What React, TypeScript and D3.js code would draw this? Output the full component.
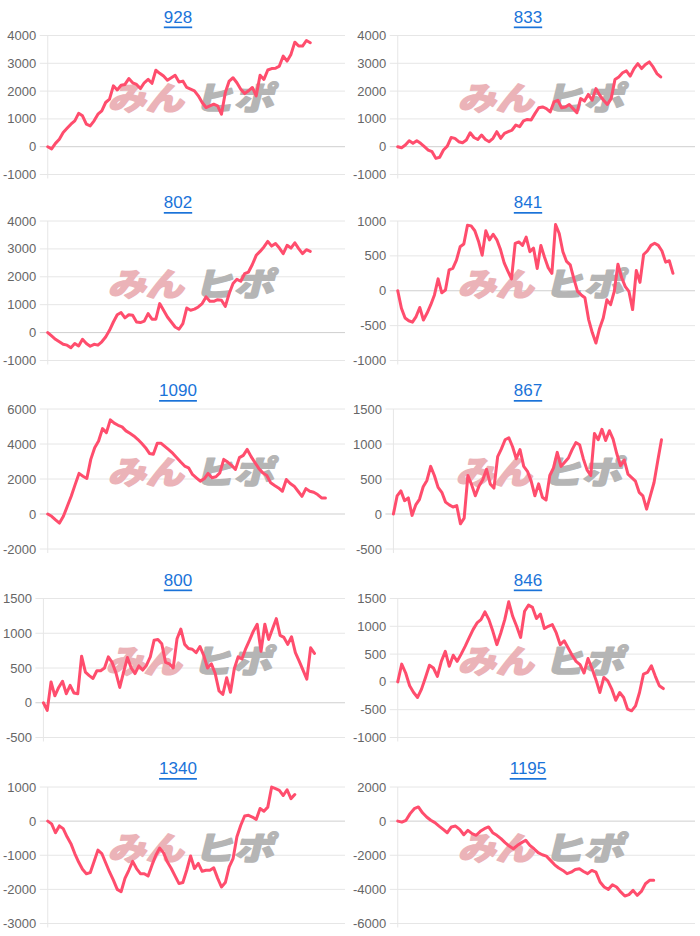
import React from "react";
import * as d3 from "d3";

// ---------- data ----------
const titles = ["928", "833", "802", "841", "1090", "867", "800", "846", "1340", "1195"];

const ticks928 = [4000, 3000, 2000, 1000, 0, -1000];
const ticks833 = [4000, 3000, 2000, 1000, 0, -1000];
const ticks802 = [4000, 3000, 2000, 1000, 0, -1000];
const ticks841 = [1000, 500, 0, -500, -1000];
const ticks1090 = [6000, 4000, 2000, 0, -2000];
const ticks867 = [1500, 1000, 500, 0, -500];
const ticks800 = [1500, 1000, 500, 0, -500];
const ticks846 = [1500, 1000, 500, 0, -500, -1000];
const ticks1340 = [1000, 0, -1000, -2000, -3000];
const ticks1195 = [2000, 0, -2000, -4000, -6000];

const values928 = [0, -80, 120, 270, 510, 660, 810, 930, 1200, 1110, 810, 750, 930, 1170, 1290, 1590, 1710, 2190, 2040, 2210, 2240, 2450, 2300, 2240, 2090, 2300, 2420, 2280, 2750, 2640, 2540, 2390, 2480, 2570, 2330, 2360, 2130, 2070, 2010, 1830, 1590, 1410, 1470, 1530, 1470, 1170, 1950, 2360, 2480, 2300, 2070, 1910, 2010, 2130, 1830, 2570, 2420, 2760, 2810, 2820, 2900, 3260, 3080, 3320, 3760, 3620, 3620, 3820, 3740];
const values833 = [0, -40, 60, 210, 120, 210, 120, 0, -120, -180, -420, -380, -120, 20, 330, 300, 180, 140, 240, 500, 330, 260, 420, 260, 180, 300, 540, 300, 480, 540, 600, 780, 720, 930, 980, 960, 1190, 1400, 1430, 1370, 1250, 1610, 1670, 1400, 1430, 1520, 1370, 1220, 1730, 1640, 1880, 1670, 2090, 1850, 1670, 1520, 1730, 2420, 2510, 2660, 2730, 2540, 2810, 2990, 2810, 2960, 3050, 2870, 2630, 2510];
const values802 = [0, -120, -240, -330, -420, -450, -540, -390, -480, -240, -390, -490, -420, -450, -330, -160, 80, 380, 640, 720, 530, 640, 620, 380, 360, 410, 680, 480, 480, 1040, 800, 560, 380, 200, 120, 320, 880, 800, 840, 920, 1040, 1280, 1120, 1120, 1180, 1160, 940, 1400, 1760, 1910, 1840, 2110, 2170, 2440, 2770, 2910, 3070, 3270, 3100, 3190, 3030, 2830, 3130, 3030, 3220, 3010, 2830, 2970, 2910];
const values841 = [0, -250, -390, -430, -450, -370, -240, -420, -320, -200, -60, 170, -30, 10, 300, 320, 440, 630, 670, 940, 930, 860, 710, 510, 860, 730, 810, 730, 590, 400, 280, 170, 680, 700, 650, 770, 560, 610, 320, 650, 480, 330, 250, 950, 820, 560, 420, 370, 170, -10, -60, -100, -410, -600, -750, -540, -390, -130, -200, -10, 380, 190, 60, -10, -270, 290, 120, 520, 570, 650, 680, 650, 570, 410, 430, 250];
const values1090 = [0, -130, -330, -520, -130, 440, 1010, 1680, 2320, 2160, 2030, 3120, 3790, 4170, 4880, 4650, 5380, 5190, 5070, 4980, 4750, 4610, 4460, 4270, 4040, 3790, 3460, 3410, 4040, 4040, 3850, 3660, 3460, 3220, 2970, 2740, 2640, 2260, 2070, 1880, 2010, 2320, 2070, 2130, 2350, 3120, 2970, 2780, 2550, 3220, 3350, 3690, 3280, 2930, 2590, 2350, 2200, 1780, 1630, 1490, 1300, 1970, 1740, 1590, 1300, 1010, 1450, 1300, 1240, 1110, 920, 920];
const values867 = [0, 260, 330, 190, 230, -20, 130, 210, 390, 480, 680, 550, 380, 310, 170, 130, 100, 120, -140, -60, 550, 420, 260, 400, 490, 640, 430, 370, 820, 930, 1060, 1090, 960, 790, 920, 680, 610, 470, 260, 430, 240, 200, 550, 660, 880, 680, 740, 800, 920, 1020, 990, 790, 630, 550, 1150, 1060, 1210, 1050, 1190, 1070, 860, 690, 770, 570, 520, 470, 310, 260, 70, 260, 450, 760, 1060];
const values800 = [0, -110, 300, 100, 220, 310, 130, 250, 140, 130, 670, 440, 390, 350, 460, 460, 500, 660, 580, 430, 220, 440, 650, 500, 420, 530, 470, 540, 660, 900, 910, 850, 580, 560, 500, 920, 1060, 840, 780, 770, 720, 810, 680, 500, 560, 420, 170, 120, 360, 150, 490, 660, 630, 780, 900, 1030, 1130, 740, 1130, 910, 1060, 1210, 970, 940, 840, 950, 720, 600, 470, 340, 790, 710];
const values846 = [0, 320, 160, -70, -190, -280, -130, 80, 300, 250, 100, 370, 550, 280, 480, 370, 500, 640, 790, 940, 1060, 1120, 1260, 1120, 910, 670, 880, 1120, 1440, 1180, 1000, 800, 1270, 1380, 1340, 1140, 1220, 960, 1000, 1030, 880, 670, 740, 610, 480, 370, 310, 160, 420, 240, 40, -190, 80, 20, -130, -330, -190, -280, -490, -520, -430, -190, 140, 170, 290, 100, -70, -120];
const values1340 = [0, -80, -340, -140, -220, -460, -660, -950, -1200, -1410, -1540, -1510, -1180, -850, -950, -1220, -1490, -1730, -2000, -2070, -1680, -1440, -1180, -1390, -1540, -1540, -1610, -1290, -1000, -790, -930, -1200, -1390, -1610, -1830, -1800, -1440, -1020, -1390, -1240, -1470, -1440, -1440, -1370, -1670, -1930, -1800, -1340, -1100, -460, -120, 150, 170, 120, 50, 370, 290, 410, 1000, 950, 900, 750, 920, 660, 780];
const values1195 = [0, -60, 50, 440, 730, 830, 490, 240, 50, -90, -290, -480, -680, -340, -290, -480, -800, -540, -730, -830, -600, -440, -340, -680, -830, -1030, -1260, -1460, -1620, -1420, -1260, -1120, -1420, -1620, -1850, -1970, -2050, -2300, -2560, -2750, -2890, -3080, -2990, -2830, -2790, -2950, -3080, -2890, -2990, -3570, -3860, -4000, -3730, -3860, -4150, -4390, -4310, -4060, -4350, -4120, -3670, -3470, -3470];

// share of the full period that the recorded data covers
const coverage = [0.888, 0.888, 0.888, 0.927, 0.933, 0.893, 0.9, 0.89, 0.826, 0.862];

const allTicks = [ticks928, ticks833, ticks802, ticks841, ticks1090, ticks867, ticks800, ticks846, ticks1340, ticks1195];
const allValues = [values928, values833, values802, values841, values1090, values867, values800, values846, values1340, values1195];

// ---------- layout ----------
const W = 700;
const H = 936;
const PANEL_W = 350;
const rowTop = [35.5, 221, 409, 598.5, 787];
const rowBottom = [174.5, 360.5, 549, 737.5, 923.5];
const RIGHT_EDGE = 345;
const LINE_COLOR = "#ff4d6d";
const FONT = "'Liberation Sans', Arial, Helvetica, sans-serif";
const WM_FONT = "'Noto Sans CJK JP', sans-serif";

function labelWidth(s: string) {
  let w = 0;
  for (const c of s) w += c === "-" ? 4.33 : 7.23;
  return w;
}

function Watermark({ x, y, text, width, color }: { x: number; y: number; text: string; width: number; color: string }) {
  return (
    <text
      x={x}
      y={y}
      dominantBaseline="central"
      fontFamily={WM_FONT}
      fontWeight={900}
      fontSize={35}
      fill={color}
      stroke={color}
      strokeWidth={1.6}
      strokeLinejoin="round"
      textLength={width}
      lengthAdjust="spacingAndGlyphs"
      transform={`translate(${x},${y}) skewX(-14) scale(1,0.92) translate(${-x},${-y})`}
    >
      {text}
    </text>
  );
}

function Panel({ idx }: { idx: number }) {
  const col = idx % 2;
  const row = Math.floor(idx / 2);
  const px = col * PANEL_W;
  const ticks = allTicks[idx];
  const values = allValues[idx];
  const maxW = d3.max(ticks, (t) => labelWidth(String(t))) as number;
  const x0 = px + 14.5 + maxW;
  const x1 = px + RIGHT_EDGE;
  const top = rowTop[row];
  const bottom = rowBottom[row];
  const slots = Math.round((values.length - 1) / coverage[idx]) + 1;

  const x = d3.scaleLinear().domain([0, slots - 1]).range([x0, x1]);
  const y = d3
    .scaleLinear()
    .domain([d3.min(ticks) as number, d3.max(ticks) as number])
    .range([bottom, top]);
  const line = d3
    .line<number>()
    .x((_, i) => x(i))
    .y((d) => y(d));

  const cx = (x0 + x1) / 2;
  const cy = (top + bottom) / 2 - 9;

  return (
    <g>
      <text
        x={px + 178}
        y={top - 18.5}
        textAnchor="middle"
        dominantBaseline="central"
        fontFamily={FONT}
        fontSize={17}
        fill="#1a73d9"
        style={{ textDecoration: "underline" }}
      >
        {titles[idx]}
      </text>
      {ticks.map((t) => (
        <g key={t}>
          <line
            x1={x0 - 8}
            x2={x1}
            y1={y(t)}
            y2={y(t)}
            stroke={t === 0 ? "#cfcfcf" : "#e6e6e6"}
            strokeWidth={1}
          />
          <text
            x={x0 - 11.5}
            y={y(t)}
            textAnchor="end"
            dominantBaseline="central"
            fontFamily={FONT}
            fontSize={13}
            fill="#666"
          >
            {t}
          </text>
        </g>
      ))}
      <line x1={x0} x2={x0} y1={top} y2={bottom + 4} stroke="#e6e6e6" strokeWidth={1} />
      <Watermark x={cx - 85} y={cy} text="みん" width={76} color="#ebb3b8" />
      <Watermark x={cx + 1} y={cy} text="ヒポ" width={80} color="#b5b5b5" />
      <path d={line(values) || ""} fill="none" stroke={LINE_COLOR} strokeWidth={3} strokeLinejoin="round" strokeLinecap="round" />
    </g>
  );
}

export default function App() {
  return (
    <svg
      width={W}
      height={H}
      viewBox={`0 0 ${W} ${H}`}
      style={{ position: "absolute", left: 0, top: 0, background: "#fff" }}
    >
      <rect width={W} height={H} fill="#fff" />
      {titles.map((_, i) => (
        <Panel key={i} idx={i} />
      ))}
    </svg>
  );
}
